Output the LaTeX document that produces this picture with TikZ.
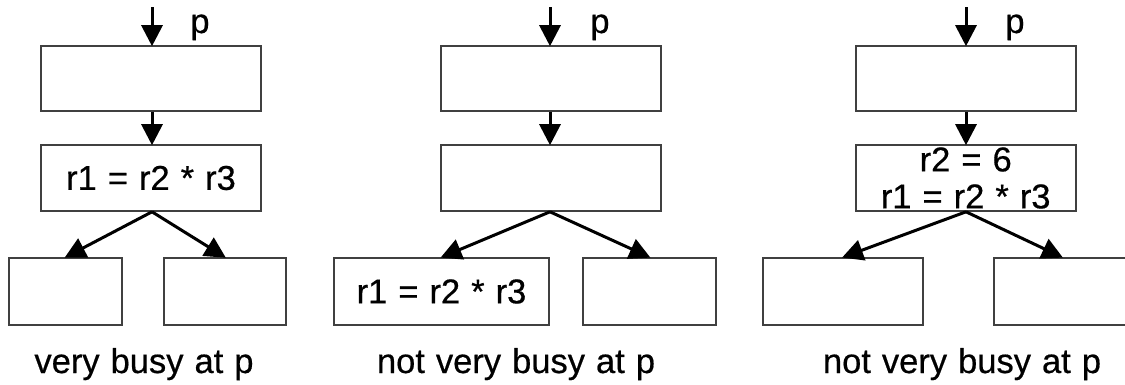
\documentclass[tikz,border=0pt]{standalone}
\usepackage{fontspec}
\setmainfont[WordSpace=1.15,FakeBold=0.5]{Liberation Sans}
\usetikzlibrary{arrows.meta}
\begin{document}
\begin{tikzpicture}[x=1pt,y=-1pt,
  blk/.style={draw=black!75, line width=1.6pt, fill=white, inner sep=0pt, anchor=center},
  flow/.style={line width=3pt, -{Triangle[length=21pt,width=21pt]}, shorten >=-1pt},
  txt/.style={font=\fontsize{34.5}{38}\selectfont, inner sep=0pt},
  caption/.style={font=\fontsize{34.5}{38}\selectfont, inner sep=0pt, anchor=base}]
\useasboundingbox (0,0) rectangle (1125,384);
\begin{scope}
\clip (0,0) rectangle (1125,384);

% left panel: the computation sits in the block before the branch
\coordinate (in1) at (152,7);
\node[blk, minimum width=220pt, minimum height=65pt] (b11) at (151,78.5) {};
\node[blk, minimum width=220pt, minimum height=66pt] (b12) at (151,178) {};
\node[txt] at (b12) {r1 = r2 * r3};
\node[blk, minimum width=113pt, minimum height=67pt] (b13) at (65.5,291.5) {};
\node[blk, minimum width=122pt, minimum height=67pt] (b14) at (225,291.5) {};
\node[caption] (p1) at (200,33) {p};
\node[caption] (c1) at (144,373) {very busy at p};
\draw[flow] (in1) -- (in1 |- b11.north);
\draw[flow] (b11.south -| in1) -- (b12.north -| in1);
\draw[flow] (b12.south -| in1) -- (b13.north);
\draw[flow] (b12.south -| in1) -- (b14.north);

% middle panel: the computation only on one branch
\coordinate (in2) at (550,7);
\node[blk, minimum width=220pt, minimum height=65pt] (b21) at (550.7,78.5) {};
\node[blk, minimum width=220pt, minimum height=66pt] (b22) at (550.7,178) {};
\node[blk, minimum width=215pt, minimum height=67pt] (b23) at (441.5,291.5) {};
\node[txt] at (b23) {r1 = r2 * r3};
\node[blk, minimum width=133pt, minimum height=67pt] (b24) at (649.5,291.5) {};
\node[caption] (p2) at (600,33) {p};
\node[caption] (c2) at (516,373) {not very busy at p};
\draw[flow] (in2) -- (in2 |- b21.north);
\draw[flow] (b21.south -| in2) -- (b22.north -| in2);
\draw[flow] (b22.south -| in2) -- (b23.north);
\draw[flow] (b22.south -| in2) -- (b24.north);

% right panel: an operand is redefined before the product
\coordinate (in3) at (966,7);
\node[blk, minimum width=220pt, minimum height=65pt] (b31) at (965.7,78.5) {};
\node[blk, minimum width=220pt, minimum height=66pt] (b32) at (965.7,178) {};
\node[txt, align=center] at (965.7,178) {r2 = 6\\[-1pt]r1 = r2 * r3};
\node[blk, minimum width=160pt, minimum height=67pt] (b33) at (843,291.5) {};
\node[blk, minimum width=136pt, minimum height=67pt] (b34) at (1062,291.5) {};
\node[caption] (p3) at (1015,33) {p};
\node[caption] (c3) at (962,373) {not very busy at p};
\draw[flow] (in3) -- (in3 |- b31.north);
\draw[flow] (b31.south -| in3) -- (b32.north -| in3);
\draw[flow] (b32.south -| in3) -- (b33.north);
\draw[flow] (b32.south -| in3) -- (b34.north);
\end{scope}
\end{tikzpicture}
\end{document}
